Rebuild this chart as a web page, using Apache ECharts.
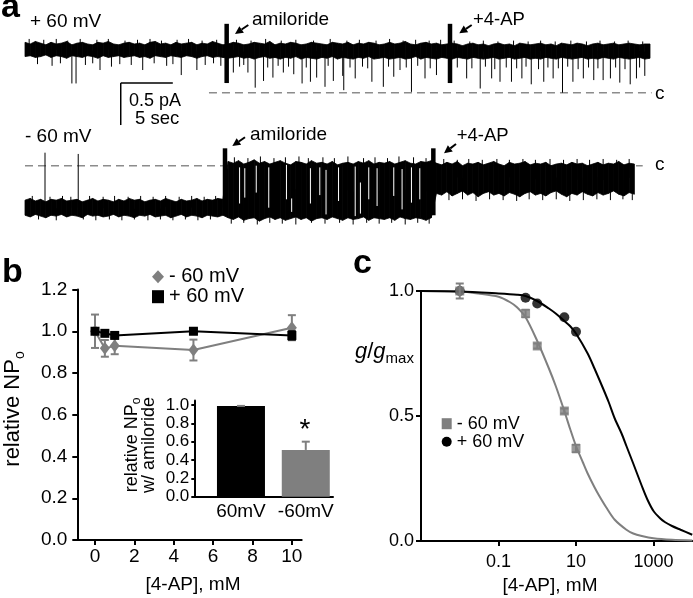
<!DOCTYPE html>
<html><head><meta charset="utf-8">
<script src="https://cdn.jsdelivr.net/npm/echarts@6/dist/echarts.min.js"></script>
<style>html,body{margin:0;padding:0;background:#fff}#c{width:693px;height:598px}</style>
</head><body><div id="c"></div>
<script>
const FONT = 'Liberation Sans, Arial, Helvetica, sans-serif';
const GRAY = '#7f7f7f';

// ---------- Panel a : single-channel traces (time in s, current in pA) ----------
const traceStep = 0.5;
const hiTop = [0.60,0.58,0.61,0.59,0.57,0.60,0.58,0.59,0.61,0.57, 0.59,0.60,0.58,0.57,0.60,0.59,0.61,0.58,0.57,0.59,
  0.60,0.58,0.59,0.57,0.60,0.61,0.58,0.59,0.57,0.60, 0.58,0.59,0.60,0.57,0.59,0.58,0.61,0.59,0.57,0.58,
  0.60,0.59,0.57,0.58,0.60,0.59,0.58,0.61,0.57,0.59, 0.58,0.60,0.59,0.57,0.58,0.60,0.59,0.58,0.57,0.60,
  0.59,0.58,0.60,0.57,0.59,0.58,0.60,0.59,0.57,0.58, 0.60,0.58,0.59,0.61,0.58,0.57,0.59,0.60,0.58,0.59,
  0.57,0.58,0.59,0.58,0.56,0.58,0.59,0.57,0.58,0.56, 0.58,0.59,0.57,0.58,0.56,0.59,0.58,0.57,0.58,0.59,
  0.57,0.58,0.56,0.59,0.58,0.57,0.59,0.58,0.56,0.58, 0.59,0.57,0.58,0.59,0.57,0.58,0.59,0.58,0.57,0.58,0.58];
const loTop = [0.43,0.44,0.42,0.43,0.45,0.42,0.44,0.43,0.41,0.44, 0.43,0.42,0.44,0.43,0.41,0.44,0.42,0.43,0.44,0.42,
  0.43,0.44,0.42,0.43,0.41,0.44,0.43,0.42,0.44,0.43, 0.42,0.44,0.43,0.41,0.43,0.44,0.42,0.43,0.42,0.41,
  0.42,0.43,0.41,0.42,0.40,0.42,0.43,0.41,0.42,0.40, 0.42,0.41,0.43,0.40,0.42,0.41,0.40,0.42,0.41,0.43,
  0.40,0.42,0.41,0.40,0.42,0.41,0.43,0.40,0.41,0.42, 0.40,0.41,0.42,0.40,0.41,0.43,0.40,0.42,0.41,0.40,
  0.42,0.41,0.40,0.42,0.41,0.40,0.42,0.41,0.40,0.41, 0.42,0.40,0.41,0.42,0.40,0.41,0.42,0.40,0.41,0.40,
  0.42,0.41,0.40,0.42,0.41,0.40,0.41,0.42,0.40,0.41, 0.40,0.42,0.41,0.40,0.42,0.41,0.40,0.41,0.42,0.40,0.41];
const spikesTop = [
  [4.5,0.11],[4.9,0.11],[7.2,0.27],[11.3,0.27],[15.0,0.21],[16.5,0.27],
  [20.0,0.24],[21.4,0.24],[22.1,0.06],[22.9,0.14],[23.8,0.18],[24.8,0.24],[25.8,0.22],[26.6,0.11],[27.4,0.13],[28.0,0.18],[28.8,0.07],[29.6,0.14],[30.5,0.20],[30.6,0.03],[31.7,0.17],[33.3,0.13],[34.4,0.07],[35.4,0.19],[36.0,0.27],[37.1,0.01],[38.4,0.17],[39.5,0.21],
  [42.4,0.17],[43.7,0.05],[44.8,0.17],[45.6,0.13],[46.7,0.13],[47.7,0.17],[48.6,0.10],[49.8,0.13],[50.7,0.17],[51.6,0.0],[52.6,0.13],[53.6,0.17],[54.6,0.15],[55.5,0.15],[56.2,0.17],[57.1,0.12],[58.1,0.10],[58.7,0.17],[59.5,0.20],
  [1.2,0.34],[2.6,0.32],[3.4,0.35],[5.8,0.33],[6.5,0.35],[8.3,0.31],[9.1,0.34],[10.2,0.33],[12.4,0.35],[13.6,0.32],[14.2,0.34],[17.3,0.33],[18.1,0.35],[18.8,0.32],
  [20.6,0.31],[21.0,0.33],[23.3,0.30],[24.3,0.32],[25.3,0.31],[27.0,0.30],[29.1,0.32],[31.2,0.30],[32.4,0.31],[32.9,0.29],[34.9,0.31],[36.6,0.30],[37.7,0.32],[38.9,0.29],
  [41.5,0.30],[42.9,0.29],[44.2,0.31],[45.1,0.28],[46.2,0.30],[47.2,0.29],[48.1,0.31],[49.3,0.28],[50.2,0.30],[51.2,0.29],[52.1,0.31],[53.1,0.28],[54.1,0.30],[55.0,0.29],[56.7,0.30],[57.6,0.28],[59.0,0.30],
  [0.4,0.64],[1.8,0.63],[3.0,0.64],[4.1,0.62],[5.3,0.64],[6.9,0.63],[8.0,0.64],[9.6,0.62],[10.8,0.63],[12.0,0.64],[13.1,0.62],[14.6,0.63],[15.7,0.64],[17.0,0.62],[18.4,0.63],
  [20.3,0.63],[21.7,0.62],[23.1,0.64],[24.6,0.62],[26.0,0.63],[27.7,0.62],[29.3,0.64],[30.9,0.62],[32.1,0.63],[33.7,0.62],[35.0,0.64],[36.3,0.62],[37.5,0.63],[38.8,0.62],[39.9,0.63],
  [41.2,0.62],[42.7,0.61],[44.0,0.62],[45.4,0.61],[46.9,0.62],[48.3,0.61],[49.5,0.62],[50.9,0.61],[52.4,0.62],[53.9,0.61],[55.2,0.62],[56.6,0.61],[57.9,0.62],[59.3,0.61]];
const markersTop = [[19.36,0.82,0.115],[40.8,0.82,0.115]];
const closedTop = [[17.66,0],[60.16,0]];
const scaleBar = {t0: 9.19, i0: 0.115, dt: 5, di: 0.5};

const hiBot = [-0.41,-0.39,-0.42,-0.40,-0.43,-0.40,-0.41,-0.39,-0.42,-0.41, -0.40,-0.43,-0.41,-0.39,-0.42,-0.40,-0.41,-0.43,-0.40,-0.42,
  -0.39,-0.41,-0.40,-0.43,-0.41,-0.40,-0.42,-0.39,-0.41,-0.43, -0.40,-0.42,-0.41,-0.39,-0.42,-0.40,-0.41,-0.39,-0.40,
  0.05,0.03,0.06,0.02,0.04,0.07,0.03,0.05,0.02,0.04, 0.06,0.03,0.01,0.05,0.04,0.02,0.06,0.03,0.04,0.02,
  0.05,0.01,0.03,0.04,0.02,0.05,0.03,0.06,0.02,0.04, 0.03,0.05,0.02,0.04,0.06,0.03,0.02,0.05,0.04,0.06,
  0.03,0.01,0.04,0.02,0.05,0.00,0.03,0.02,0.04,0.01, 0.03,0.05,0.02,0.00,0.04,0.02,0.03,0.05,0.01,0.03,
  0.02,0.04,0.00,0.02,0.03,0.01,0.04,0.02,0.03,0.00, 0.02,0.04,0.01,0.03,0.02,0.05,0.01,0.03,0.02];
const loBot = [-0.59,-0.61,-0.58,-0.60,-0.62,-0.59,-0.60,-0.58,-0.61,-0.59, -0.60,-0.62,-0.58,-0.60,-0.59,-0.61,-0.60,-0.58,-0.61,-0.59,
  -0.60,-0.62,-0.59,-0.60,-0.58,-0.61,-0.60,-0.59,-0.62,-0.60, -0.58,-0.61,-0.59,-0.60,-0.62,-0.59,-0.60,-0.61,-0.59,
  -0.62,-0.64,-0.61,-0.65,-0.63,-0.62,-0.66,-0.63,-0.61,-0.64, -0.62,-0.65,-0.63,-0.61,-0.64,-0.62,-0.66,-0.63,-0.62,-0.64,
  -0.61,-0.63,-0.65,-0.62,-0.64,-0.63,-0.61,-0.65,-0.62,-0.63, -0.64,-0.62,-0.65,-0.61,-0.63,-0.64,-0.62,-0.63,-0.65,-0.62,
  -0.33,-0.35,-0.31,-0.36,-0.33,-0.30,-0.35,-0.32,-0.37,-0.33, -0.31,-0.35,-0.33,-0.36,-0.32,-0.34,-0.37,-0.33,-0.31,-0.35,
  -0.33,-0.36,-0.32,-0.30,-0.34,-0.37,-0.33,-0.35,-0.31,-0.34, -0.36,-0.32,-0.35,-0.33,-0.30,-0.34,-0.36,-0.32,-0.34];
const spikesBot = [
  [1.92,0.155],[5.11,0.14],
  [0.7,-0.36],[2.4,-0.37],[3.6,-0.36],[4.4,-0.37],[6.2,-0.36],[7.5,-0.37],[8.6,-0.36],[9.9,-0.37],[11.1,-0.36],[12.3,-0.37],[13.5,-0.36],[14.8,-0.37],[16.0,-0.36],[17.2,-0.37],[18.3,-0.36],
  [1.3,-0.64],[3.0,-0.65],[5.6,-0.64],[6.8,-0.65],[8.1,-0.64],[9.3,-0.65],[10.5,-0.64],[11.8,-0.65],[13.0,-0.64],[14.2,-0.65],[15.4,-0.64],[16.6,-0.65],[17.8,-0.64],
  [20.1,0.10],[21.4,0.09],[22.6,0.11],[23.9,0.09],[25.0,0.10],[26.3,0.11],[27.2,0.09],[28.6,0.10],[29.7,0.09],[31.0,0.11],[32.5,0.09],[33.6,0.10],[34.8,0.09],[35.9,0.11],[37.3,0.10],[38.5,0.09],
  [19.8,-0.69],[21.0,-0.68],[22.3,-0.70],[23.5,-0.68],[24.7,-0.69],[26.0,-0.70],[27.5,-0.68],[28.8,-0.69],[30.2,-0.68],[31.5,-0.70],[32.8,-0.68],[34.0,-0.69],[35.2,-0.68],[36.5,-0.70],[37.7,-0.68],[38.8,-0.69],
  [40.2,0.08],[41.5,0.07],[42.6,0.08],[43.9,0.07],[45.3,0.08],[46.5,0.07],[47.8,0.08],[49.0,0.07],[50.4,0.08],[51.7,0.07],[53.0,0.08],[54.2,0.07],[55.5,0.08],[56.8,0.07],[58.0,0.08],
  [40.7,-0.41],[42.0,-0.40],[43.3,-0.42],[44.6,-0.40],[45.9,-0.41],[47.2,-0.42],[48.4,-0.40],[49.7,-0.41],[51.0,-0.40],[52.3,-0.42],[53.6,-0.41],[54.9,-0.40],[56.2,-0.41],[57.4,-0.40],[58.3,-0.41]];
const gapsBot = [[20.6,-0.02,-0.45],[21.1,-0.03,-0.38],[22.2,0.0,-0.32],[23.4,-0.02,-0.50],[25.1,0.01,-0.40],[25.6,-0.39,-0.55],
  [27.4,-0.03,-0.45],[28.3,-0.02,-0.35],[28.9,-0.05,-0.58],[30.1,-0.02,-0.42],[31.7,-0.01,-0.60],[32.2,-0.2,-0.57],
  [33.0,-0.02,-0.40],[33.8,-0.03,-0.48],[35.4,-0.02,-0.36],[36.2,-0.04,-0.52],[37.1,-0.02,-0.44],[37.9,-0.03,-0.40]];
const markersBot = [[19.2,0.207,-0.5],[39.2,0.207,-0.59]];
const closedBot = [[0,0],[59.3,0]];

// ---------- Panel b ----------
const bConc = [0, 0.5, 1, 5, 10];
const bNeg = [1.0, 0.918, 0.93, 0.91, 1.017];
const bNegErr = [0.08, 0.04, 0.04, 0.05, 0.06];
const bPos = [1.0, 0.99, 0.98, 1.0, 0.98];
const bPosErr = [0.01, 0.01, 0.01, 0.01, 0.02];
const bTicks = [0, 2, 4, 6, 8, 10];
const insetCats = ['60mV', '-60mV'];
const insetVals = [0.99, 0.51];
const insetErr = [0, 0.09];
const insetTicks = [0, 0.2, 0.4, 0.6, 0.8, 1.0];

// ---------- Panel c ----------
const cConc = [0.01, 0.5, 1, 5, 10];
const cNeg = [1.0, 0.91, 0.78, 0.52, 0.37];
const cNegErr = [0.03, 0.015, 0.01, 0.01, 0.015];
const cPos = [1.0, 0.973, 0.95, 0.895, 0.837];
const fitNegX = [0.001, 0.01, 0.03, 0.1, 0.2, 0.3, 0.5, 1, 2, 3, 5, 7, 10, 15, 20, 30, 40, 60, 100, 200, 300, 500, 1000, 3000, 10000];
const fitNegY = [1.0, 0.998, 0.99, 0.977, 0.955, 0.935, 0.895, 0.80, 0.69, 0.62, 0.52, 0.45, 0.38, 0.315, 0.27, 0.215, 0.18, 0.135, 0.085, 0.045, 0.03, 0.02, 0.011, 0.005, 0.002];
const fitPosX = [0.001, 0.01, 0.1, 0.3, 0.5, 1, 2, 3, 5, 7, 10, 20, 30, 50, 70, 100, 150, 200, 300, 500, 700, 1000, 1500, 2000, 3000, 5000, 10000];
const fitPosY = [1.0, 0.998, 0.99, 0.985, 0.98, 0.96, 0.93, 0.91, 0.88, 0.86, 0.83, 0.75, 0.69, 0.61, 0.555, 0.49, 0.43, 0.38, 0.31, 0.22, 0.165, 0.12, 0.09, 0.075, 0.06, 0.045, 0.025];
const cTicks = [0.1, 10, 1000];

// ---------- helpers ----------
const zip = (xs, ys) => xs.map((x, i) => [x, ys[i]]);
const axisLine = {show: true, onZero: false, lineStyle: {color: '#000', width: 2}};
const tickStyle = {color: '#000', width: 2};
const lbl = (size, margin, extra) => Object.assign({color: '#000', fontSize: size, fontFamily: FONT, margin}, extra || {});

function bandSeries(xi, hi, lo) {
  const data = hi.map((h, i) => [i * traceStep, h, lo[i]]);
  return {type: 'custom', xAxisIndex: xi, yAxisIndex: xi, clip: false, silent: true, z: 3,
    encode: {x: 0, y: [1, 2]}, data,
    renderItem(params, api) {
      const i = params.dataIndex;
      if (i >= data.length - 1) return {type: 'group', children: []};
      const a = data[i], b = data[i + 1];
      const pts = [api.coord([a[0], a[1]]), api.coord([b[0], b[1]]), api.coord([b[0], b[2]]), api.coord([a[0], a[2]])];
      return {type: 'polygon', shape: {points: pts}, style: {fill: '#000', stroke: '#000', lineWidth: 0.8}};
    }};
}
function segSeries(xi, segs, color, width, z) {
  return {type: 'custom', xAxisIndex: xi, yAxisIndex: xi, clip: false, silent: true, z,
    encode: {x: [0, 2], y: [1, 3]}, data: segs,
    renderItem(params, api) {
      const p1 = api.coord([api.value(0), api.value(1)]), p2 = api.coord([api.value(2), api.value(3)]);
      return {type: 'line', shape: {x1: p1[0], y1: p1[1], x2: p2[0], y2: p2[1]}, style: {stroke: color, lineWidth: width}};
    }};
}
function spikeSegs(spikes, hi, lo) {
  return spikes.map(([t, tip]) => {
    const i = Math.min(hi.length - 1, Math.round(t / traceStep));
    return [t, (hi[i] + lo[i]) / 2, t, tip];
  });
}
function errSeries(ai, xs, ys, es, color, upOnly, z) {
  return {type: 'custom', xAxisIndex: ai, yAxisIndex: ai, clip: false, silent: true, z: z || 2,
    encode: {x: 0, y: 1}, data: xs.map((x, i) => [x, ys[i], es[i]]),
    renderItem(params, api) {
      const x = api.value(0), y = api.value(1), e = api.value(2);
      const top = api.coord([x, y + e]), bot = api.coord([x, upOnly ? y : y - e]);
      const w = 4;
      return {type: 'group', children: [
        {type: 'line', shape: {x1: top[0], y1: top[1], x2: bot[0], y2: bot[1]}, style: {stroke: color, lineWidth: 2}},
        {type: 'line', shape: {x1: top[0] - w, y1: top[1], x2: top[0] + w, y2: top[1]}, style: {stroke: color, lineWidth: 2}},
        upOnly ? {type: 'group', children: []} :
        {type: 'line', shape: {x1: bot[0] - w, y1: bot[1], x2: bot[0] + w, y2: bot[1]}, style: {stroke: color, lineWidth: 2}}
      ]};
    }};
}
function arrow(tail, tip) {
  const dx = tip[0] - tail[0], dy = tip[1] - tail[1], L = Math.hypot(dx, dy);
  const ux = dx / L, uy = dy / L, h = 8, w = 4;
  const bx = tip[0] - ux * h, by = tip[1] - uy * h;
  return [
    {type: 'line', shape: {x1: tail[0], y1: tail[1], x2: bx, y2: by}, style: {stroke: '#000', lineWidth: 2}},
    {type: 'polygon', shape: {points: [tip, [bx - uy * w, by + ux * w], [bx + uy * w, by - ux * w]]}, style: {fill: '#000'}}
  ];
}
function txt(text, x, y, size, opts, rotation) {
  const el = {type: 'text', x, y, style: Object.assign({text, fill: '#000', fontSize: size, fontFamily: FONT,
    align: 'left', verticalAlign: 'middle'}, opts || {})};
  if (rotation) el.rotation = rotation;
  return el;
}

const hidden = {show: false};
const traceX = (g) => ({gridIndex: g, type: 'value', min: 0, max: 61, show: false});

const option = {
  animation: false,
  backgroundColor: '#fff',
  grid: [
    {left: 25, top: 8.7, width: 635.42, height: 92.4, outerBoundsMode: 'none'},
    {left: 25, top: 140.5, width: 635.42, height: 88.2, outerBoundsMode: 'none'},
    {left: 77.3, top: 289.5, width: 224.4, height: 250.5, outerBoundsMode: 'none'},
    {left: 194.3, top: 400.4, width: 138.7, height: 96.3, outerBoundsMode: 'none'},
    {left: 421, top: 291, width: 271.25, height: 250, outerBoundsMode: 'none'}
  ],
  xAxis: [
    traceX(0), traceX(1),
    {gridIndex: 2, type: 'value', min: -0.9, max: 10.5, axisLine, splitLine: hidden,
      axisTick: {customValues: bTicks, length: 5, lineStyle: tickStyle},
      axisLabel: lbl(19, 7, {customValues: bTicks})},
    {gridIndex: 3, type: 'value', min: 0.28, max: 2.42, axisLine, splitLine: hidden, axisTick: hidden,
      axisLabel: lbl(19, 6, {customValues: [1, 2], formatter: v => insetCats[Math.round(v) - 1]})},
    {gridIndex: 4, type: 'log', logBase: 10, min: 0.001, max: 10000, axisLine, splitLine: hidden, minorSplitLine: hidden,
      axisTick: {customValues: cTicks, length: 5, lineStyle: tickStyle},
      axisLabel: lbl(18, 12, {customValues: cTicks, formatter: v => v < 1 ? String(Number(v.toFixed(1))) : String(Math.round(v))})}
  ],
  yAxis: [
    {gridIndex: 0, type: 'value', min: -0.1, max: 1.0, show: false},
    {gridIndex: 1, type: 'value', min: -0.75, max: 0.3, show: false},
    {gridIndex: 2, type: 'value', min: 0, max: 1.2, interval: 0.2, axisLine, splitLine: hidden,
      axisTick: {show: true, length: 5, lineStyle: tickStyle},
      axisLabel: lbl(19, 10, {formatter: v => v.toFixed(1)})},
    {gridIndex: 3, type: 'value', min: 0, max: 1.05, axisLine, splitLine: hidden,
      axisTick: {show: true, customValues: insetTicks, length: 3, lineStyle: tickStyle},
      axisLabel: lbl(17, 5, {customValues: insetTicks, formatter: v => v.toFixed(1)})},
    {gridIndex: 4, type: 'value', min: 0, max: 1, interval: 0.5, axisLine, splitLine: hidden,
      axisTick: {show: true, length: 5, lineStyle: tickStyle},
      axisLabel: lbl(18, 7, {formatter: v => v.toFixed(1)})}
  ],
  legend: [
    {left: 152, top: 266.7, orient: 'vertical', padding: 0, itemGap: 0, itemWidth: 12, itemHeight: 13,
      selectedMode: false, lineStyle: {opacity: 0},
      textStyle: {fontSize: 20, lineHeight: 20, fontFamily: FONT, color: '#000'},
      data: [{name: '- 60 mV', icon: 'diamond'}, {name: '+ 60 mV', icon: 'rect'}]},
    {left: 441.7, top: 414.7, orient: 'vertical', padding: 0, itemGap: 0, itemWidth: 10, itemHeight: 11,
      selectedMode: false, lineStyle: {opacity: 0},
      textStyle: {fontSize: 18, lineHeight: 16.3, fontFamily: FONT, color: '#000'},
      data: [{name: '- 60 mV', icon: 'rect'}, {name: '+ 60 mV', icon: 'circle'}]}
  ],
  series: [
    // panel a, top trace
    {type: 'line', xAxisIndex: 0, yAxisIndex: 0, data: closedTop, symbol: 'none', silent: true, z: 1,
      lineStyle: {type: [8, 5], color: '#8c8c8c', width: 1.5}},
    bandSeries(0, hiTop, loTop),
    segSeries(0, spikeSegs(spikesTop, hiTop, loTop), '#000', 1, 3),
    segSeries(0, markersTop.map(m => [m[0], m[1], m[0], m[2]]), '#000', 4.5, 4),
    segSeries(0, [[scaleBar.t0, scaleBar.i0, scaleBar.t0 + scaleBar.dt, scaleBar.i0],
                  [scaleBar.t0, scaleBar.i0, scaleBar.t0, scaleBar.i0 - scaleBar.di]], '#000', 1.5, 4),
    // panel a, bottom trace
    {type: 'line', xAxisIndex: 1, yAxisIndex: 1, data: closedBot, symbol: 'none', silent: true, z: 1,
      lineStyle: {type: [8, 5], color: '#8c8c8c', width: 1.5}},
    bandSeries(1, hiBot, loBot),
    segSeries(1, spikeSegs(spikesBot, hiBot, loBot), '#000', 1, 3),
    segSeries(1, gapsBot.map(g => [g[0], g[1], g[0], g[2]]), '#ffffff', 1, 4),
    segSeries(1, markersBot.map(m => [m[0], m[1], m[0], m[2]]), '#000', 4.5, 5),
    // panel b
    errSeries(2, bConc, bNeg, bNegErr, GRAY, false, 2),
    {name: '- 60 mV', type: 'line', xAxisIndex: 2, yAxisIndex: 2, data: zip(bConc, bNeg), z: 3,
      symbol: 'diamond', symbolSize: [10, 13], itemStyle: {color: GRAY}, lineStyle: {color: GRAY, width: 2}},
    errSeries(2, bConc, bPos, bPosErr, '#000', false, 4),
    {name: '+ 60 mV', type: 'line', xAxisIndex: 2, yAxisIndex: 2, data: zip(bConc, bPos), z: 5,
      symbol: 'rect', symbolSize: 9, itemStyle: {color: '#000'}, lineStyle: {color: '#000', width: 2}},
    // inset
    {type: 'bar', xAxisIndex: 3, yAxisIndex: 3, barWidth: 48, silent: true, z: 2,
      data: insetVals.map((v, i) => ({value: [i + 1, v], itemStyle: {color: i === 0 ? '#000' : GRAY}}))},
    errSeries(3, [1, 2], insetVals, insetErr, GRAY, true, 3),
    // panel c
    {type: 'line', xAxisIndex: 4, yAxisIndex: 4, data: zip(fitNegX, fitNegY), symbol: 'none', smooth: 0.3,
      silent: true, z: 2, lineStyle: {color: GRAY, width: 2}},
    {type: 'line', xAxisIndex: 4, yAxisIndex: 4, data: zip(fitPosX, fitPosY), symbol: 'none', smooth: 0.3,
      silent: true, z: 2, lineStyle: {color: '#000', width: 2}},
    {name: '+ 60 mV', type: 'scatter', xAxisIndex: 4, yAxisIndex: 4, data: zip(cConc, cPos), z: 3,
      symbol: 'circle', symbolSize: 10, itemStyle: {color: '#000'}},
    errSeries(4, cConc, cNeg, cNegErr, GRAY, false, 4),
    {name: '- 60 mV', type: 'scatter', xAxisIndex: 4, yAxisIndex: 4, data: zip(cConc, cNeg), z: 5,
      symbol: 'rect', symbolSize: 9, itemStyle: {color: GRAY}}
  ],
  graphic: [
    txt('a', 1, 8, 34, {fontWeight: 'bold'}),
    txt('+ 60 mV', 30, 21.7, 19),
    txt('amiloride', 252, 20, 19),
    txt('+4-AP', 473, 20, 18.5),
    txt('0.5 pA', 129, 101.5, 18),
    txt('5 sec', 135, 119, 18.5),
    txt('c', 655, 93.5, 19),
    txt('- 60 mV', 25, 137, 19),
    txt('amiloride', 250, 135, 19),
    txt('+4-AP', 456.7, 136, 18.5),
    txt('c', 655, 165, 19),
    ...arrow([248.3, 25], [235, 34]),
    ...arrow([471.7, 25], [459.3, 33.3]),
    ...arrow([245, 137.3], [232.3, 146]),
    ...arrow([456, 144], [444, 153.3]),
    txt('b', 2, 273, 34, {fontWeight: 'bold'}),
    {type: 'text', x: 13, y: 409, rotation: Math.PI / 2, style: {text: '{a|relative NP}{s|o}', align: 'center', verticalAlign: 'middle',
      rich: {a: {fontSize: 22, fontFamily: FONT, fill: '#000', lineHeight: 28, verticalAlign: 'middle'},
             s: {fontSize: 14, fontFamily: FONT, fill: '#000', lineHeight: 28, verticalAlign: 'bottom'}}}},
    txt('[4-AP], mM', 193, 585, 19, {align: 'center'}),
    {type: 'text', x: 131.7, y: 445, rotation: Math.PI / 2, style: {text: '{a|relative NP}{s|o}', align: 'center', verticalAlign: 'middle',
      rich: {a: {fontSize: 18, fontFamily: FONT, fill: '#000', lineHeight: 22, verticalAlign: 'middle'},
             s: {fontSize: 12, fontFamily: FONT, fill: '#000', lineHeight: 22, verticalAlign: 'bottom'}}}},
    txt('w/ amiloride', 149, 445, 18, {align: 'center'}, Math.PI / 2),
    txt('*', 305, 430, 28, {align: 'center'}),
    txt('c', 353, 264, 34, {fontWeight: 'bold'}),
    {type: 'text', x: 355, y: 352, style: {text: '{i|g}{n|/}{i|g}{s|max}', align: 'left', verticalAlign: 'middle',
      rich: {i: {fontSize: 22, fontStyle: 'italic', fontFamily: FONT, fill: '#000', lineHeight: 28, verticalAlign: 'middle'},
             n: {fontSize: 22, fontFamily: FONT, fill: '#000', lineHeight: 28, verticalAlign: 'middle'},
             s: {fontSize: 15, fontFamily: FONT, fill: '#000', lineHeight: 28, verticalAlign: 'bottom'}}}},
    txt('[4-AP], mM', 550, 586, 19, {align: 'center'})
  ]
};

const chart = echarts.init(document.getElementById('c'), null, {renderer: 'canvas'});
chart.setOption(option);
</script></body></html>
